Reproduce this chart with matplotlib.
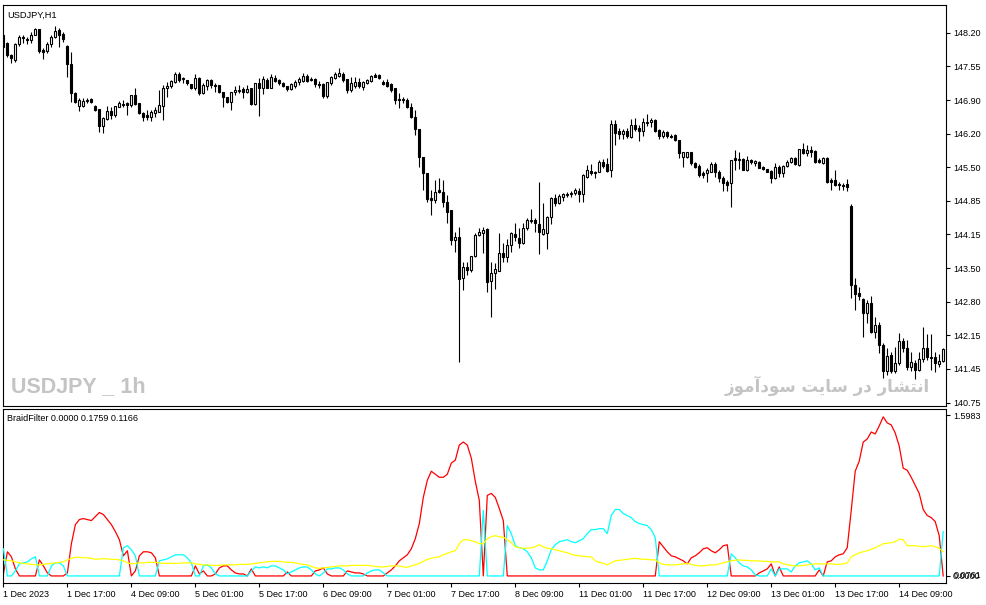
import matplotlib
matplotlib.use("Agg")
import matplotlib.pyplot as plt
import matplotlib.transforms as mtransforms
import numpy as np

# USDJPY H1 bars, 1 Dec 2023 - 14 Dec 2023
open_ = [
    148.16, 147.99, 147.75, 147.65, 147.97, 148.11, 148.07, 148.05, 148.16, 148.28,
    147.85, 147.83, 147.97, 148.11, 148.26, 148.18, 147.93, 147.57, 146.99, 146.73,
    146.73, 146.83, 146.87, 146.73, 146.66, 146.32, 146.46, 146.62, 146.54, 146.71,
    146.77, 146.79, 146.75, 146.95, 146.79, 146.58, 146.54, 146.50, 146.58, 146.60,
    146.73, 147.09, 147.13, 147.21, 147.37, 147.29, 147.25, 147.17, 147.09, 147.29,
    146.99, 147.13, 147.25, 147.15, 147.15, 147.01, 146.91, 146.81, 147.01, 147.03,
    147.07, 147.01, 147.09, 146.77, 147.19, 147.09, 147.25, 147.09, 147.29, 147.25,
    147.19, 147.13, 147.07, 147.13, 147.21, 147.23, 147.33, 147.27, 147.27, 147.17,
    147.17, 146.93, 147.19, 147.29, 147.33, 147.37, 147.27, 147.05, 147.13, 147.21,
    147.11, 147.19, 147.23, 147.35, 147.35, 147.21, 147.21, 147.17, 147.09, 146.87,
    146.85, 146.85, 146.71, 146.50, 146.26, 145.70, 145.38, 144.87, 144.83, 145.03,
    144.99, 144.79, 144.63, 144.03, 144.09, 143.26, 143.48, 143.42, 143.70, 144.13,
    144.17, 144.25, 143.20, 143.36, 143.40, 143.76, 143.68, 143.93, 144.15, 144.07,
    143.97, 144.27, 144.41, 144.43, 144.35, 144.15, 144.17, 144.49, 144.87, 144.77,
    144.89, 144.93, 144.95, 144.97, 145.01, 144.95, 145.30, 145.42, 145.40, 145.40,
    145.60, 145.56, 145.44, 146.36, 146.22, 146.16, 146.22, 146.10, 146.34, 146.28,
    146.22, 146.38, 146.40, 146.44, 146.24, 146.12, 146.20, 146.12, 146.14, 146.04,
    145.70, 145.70, 145.80, 145.58, 145.52, 145.38, 145.38, 145.40, 145.56, 145.40,
    145.28, 145.19, 145.17, 145.68, 145.66, 145.66, 145.44, 145.64, 145.58, 145.60,
    145.50, 145.46, 145.42, 145.28, 145.50, 145.38, 145.52, 145.60, 145.68, 145.54,
    145.86, 145.78, 145.84, 145.82, 145.64, 145.58, 145.68, 145.23, 145.23, 145.15,
    145.13, 145.15, 144.71, 143.12, 142.96, 142.84, 142.56, 142.76, 142.17, 142.31,
    141.91, 141.39, 141.71, 141.39, 141.55, 141.99, 141.85, 141.47, 141.55, 141.41,
    141.63, 141.85, 141.67, 141.67, 141.53, 141.59,
]
high = [
    148.20, 148.01, 147.77, 147.99, 148.16, 148.16, 148.11, 148.22, 148.30, 148.28,
    147.89, 148.01, 148.16, 148.34, 148.30, 148.22, 147.95, 147.81, 147.01, 146.89,
    146.89, 146.89, 146.89, 146.75, 146.66, 146.50, 146.73, 146.71, 146.73, 146.83,
    146.85, 146.81, 146.95, 147.09, 146.79, 146.60, 146.64, 146.64, 146.71, 147.05,
    147.15, 147.21, 147.25, 147.41, 147.41, 147.31, 147.25, 147.17, 147.37, 147.31,
    147.19, 147.27, 147.27, 147.19, 147.15, 147.01, 146.91, 147.01, 147.13, 147.15,
    147.11, 147.15, 147.09, 147.19, 147.29, 147.33, 147.29, 147.37, 147.35, 147.27,
    147.21, 147.13, 147.19, 147.25, 147.31, 147.39, 147.37, 147.31, 147.29, 147.23,
    147.19, 147.21, 147.33, 147.41, 147.49, 147.41, 147.27, 147.31, 147.31, 147.29,
    147.23, 147.27, 147.35, 147.39, 147.37, 147.25, 147.27, 147.19, 147.09, 146.99,
    146.91, 146.89, 146.79, 146.64, 146.26, 145.70, 145.38, 145.03, 145.23, 145.28,
    145.23, 144.93, 144.63, 144.19, 144.29, 143.58, 143.58, 143.70, 144.17, 144.27,
    144.29, 144.27, 143.58, 143.56, 144.17, 143.97, 144.05, 144.19, 144.37, 144.27,
    144.37, 144.47, 144.65, 144.47, 145.19, 144.77, 144.51, 144.89, 144.95, 144.95,
    144.97, 144.99, 145.01, 145.07, 145.07, 145.36, 145.54, 145.56, 145.42, 145.64,
    145.66, 145.68, 146.44, 146.44, 146.28, 146.26, 146.28, 146.46, 146.48, 146.34,
    146.48, 146.56, 146.48, 146.46, 146.26, 146.24, 146.22, 146.16, 146.16, 146.04,
    145.80, 145.80, 145.80, 145.60, 145.56, 145.42, 145.48, 145.60, 145.60, 145.44,
    145.32, 145.23, 145.64, 145.84, 145.80, 145.68, 145.72, 145.66, 145.64, 145.62,
    145.52, 145.46, 145.44, 145.58, 145.54, 145.54, 145.64, 145.70, 145.70, 145.86,
    145.98, 145.94, 145.92, 145.84, 145.68, 145.70, 145.70, 145.28, 145.44, 145.19,
    145.17, 145.25, 144.75, 143.26, 143.08, 142.86, 142.82, 142.90, 142.48, 142.37,
    141.95, 141.85, 141.77, 141.87, 142.15, 142.05, 142.01, 141.77, 141.61, 141.77,
    142.27, 142.13, 142.13, 141.77, 141.73, 141.85,
]
low = [
    147.89, 147.71, 147.59, 147.61, 147.93, 147.99, 147.97, 147.99, 148.16, 147.79,
    147.67, 147.79, 147.91, 148.09, 147.91, 148.01, 147.31, 146.81, 146.79, 146.62,
    146.71, 146.79, 146.79, 146.62, 146.20, 146.18, 146.44, 146.46, 146.50, 146.71,
    146.71, 146.54, 146.71, 146.75, 146.56, 146.42, 146.44, 146.42, 146.50, 146.60,
    146.44, 146.91, 147.09, 147.19, 147.21, 147.19, 147.15, 147.07, 147.05, 146.95,
    146.97, 147.05, 147.09, 147.01, 146.99, 146.71, 146.79, 146.64, 146.95, 146.99,
    146.89, 146.99, 146.75, 146.75, 146.52, 146.97, 147.09, 147.09, 147.21, 147.15,
    147.11, 147.03, 147.05, 147.09, 147.15, 147.21, 147.21, 147.23, 147.11, 147.09,
    146.89, 146.89, 147.15, 147.27, 147.31, 147.21, 146.99, 147.01, 147.09, 147.09,
    147.05, 147.17, 147.21, 147.31, 147.27, 147.15, 147.11, 147.01, 146.77, 146.68,
    146.79, 146.68, 146.48, 146.14, 145.50, 145.03, 144.79, 144.53, 144.77, 144.97,
    144.69, 144.37, 143.93, 143.78, 141.57, 143.02, 143.32, 143.38, 143.68, 144.11,
    143.76, 142.98, 142.48, 143.04, 143.40, 143.58, 143.58, 143.78, 144.01, 143.87,
    143.95, 144.23, 144.37, 144.19, 143.74, 144.13, 143.85, 144.35, 144.71, 144.75,
    144.81, 144.89, 144.89, 144.93, 144.79, 144.79, 145.28, 145.34, 145.28, 145.40,
    145.48, 145.40, 145.30, 145.94, 146.06, 146.06, 146.08, 146.08, 146.22, 146.02,
    146.12, 146.32, 146.30, 146.20, 146.06, 146.08, 146.08, 146.08, 146.02, 145.68,
    145.50, 145.68, 145.54, 145.48, 145.30, 145.28, 145.19, 145.40, 145.30, 145.19,
    145.01, 145.01, 144.69, 145.44, 145.46, 145.44, 145.42, 145.56, 145.52, 145.48,
    145.44, 145.40, 145.17, 145.25, 145.30, 145.30, 145.50, 145.58, 145.54, 145.52,
    145.76, 145.72, 145.70, 145.58, 145.58, 145.56, 145.17, 145.03, 145.11, 145.03,
    145.03, 145.01, 142.86, 142.62, 142.82, 142.07, 142.35, 142.15, 142.05, 141.75,
    141.25, 141.31, 141.35, 141.35, 141.51, 141.77, 141.41, 141.39, 141.23, 141.39,
    141.57, 141.61, 141.41, 141.37, 141.47, 141.57,
]
close = [
    147.91, 147.75, 147.69, 147.97, 148.11, 148.09, 148.05, 148.16, 148.28, 147.83,
    147.81, 147.97, 148.11, 148.24, 148.16, 148.07, 147.57, 146.99, 146.81, 146.85,
    146.83, 146.85, 146.81, 146.64, 146.32, 146.48, 146.62, 146.54, 146.73, 146.79,
    146.75, 146.75, 146.95, 146.77, 146.58, 146.50, 146.50, 146.60, 146.64, 146.75,
    147.09, 147.13, 147.23, 147.37, 147.25, 147.27, 147.19, 147.09, 147.29, 146.99,
    147.15, 147.25, 147.15, 147.13, 147.01, 146.91, 146.81, 147.01, 147.05, 147.05,
    147.01, 147.07, 146.77, 147.19, 147.09, 147.27, 147.09, 147.31, 147.23, 147.19,
    147.13, 147.07, 147.17, 147.21, 147.27, 147.33, 147.23, 147.25, 147.17, 147.15,
    146.93, 147.21, 147.31, 147.37, 147.39, 147.25, 147.05, 147.19, 147.21, 147.13,
    147.21, 147.25, 147.33, 147.31, 147.29, 147.17, 147.13, 147.05, 146.85, 146.85,
    146.87, 146.71, 146.50, 146.26, 145.70, 145.38, 144.85, 144.83, 144.99, 144.99,
    144.79, 144.59, 144.03, 144.09, 143.24, 143.48, 143.42, 143.70, 144.13, 144.19,
    144.23, 143.18, 143.36, 143.44, 143.76, 143.68, 143.93, 144.17, 144.09, 143.97,
    144.27, 144.43, 144.43, 144.37, 144.19, 144.25, 144.49, 144.87, 144.77, 144.91,
    144.95, 144.95, 144.97, 145.03, 144.95, 145.34, 145.44, 145.38, 145.38, 145.60,
    145.52, 145.42, 146.36, 146.18, 146.16, 146.22, 146.12, 146.34, 146.26, 146.22,
    146.40, 146.40, 146.44, 146.22, 146.12, 146.20, 146.12, 146.10, 146.04, 145.78,
    145.80, 145.80, 145.58, 145.50, 145.34, 145.34, 145.44, 145.56, 145.40, 145.28,
    145.17, 145.13, 145.64, 145.64, 145.64, 145.44, 145.64, 145.60, 145.62, 145.48,
    145.46, 145.40, 145.28, 145.50, 145.38, 145.52, 145.60, 145.68, 145.56, 145.86,
    145.78, 145.84, 145.80, 145.60, 145.60, 145.68, 145.19, 145.19, 145.13, 145.13,
    145.11, 145.09, 143.12, 142.94, 142.90, 142.56, 142.76, 142.17, 142.31, 141.91,
    141.39, 141.69, 141.39, 141.55, 141.99, 141.85, 141.47, 141.57, 141.41, 141.63,
    141.85, 141.67, 141.65, 141.55, 141.59, 141.83,
]

# BraidFilter buffers
braid_red = [
    0.02, 0.24, 0.19, 0.07, 0, 0, 0, 0, 0, 0.16,
    0.10, 0.03, 0, 0, 0, 0, 0.03, 0.32, 0.51, 0.56,
    0.57, 0.56, 0.55, 0.59, 0.63, 0.61, 0.56, 0.51, 0.44, 0.36,
    0.20, 0.25, 0, 0.05, 0.20, 0.24, 0.24, 0.23, 0.18, 0,
    0, 0, 0, 0, 0, 0, 0, 0, 0.10, 0.02,
    0.05, 0, 0, 0.02, 0.08, 0.10, 0.10, 0.06, 0.03, 0.02,
    0.02, 0, 0.07, 0, 0, 0, 0, 0, 0, 0,
    0, 0.04, 0, 0, 0, 0, 0, 0, 0.05, 0.06,
    0.08, 0.02, 0, 0, 0, 0, 0.05, 0.04, 0.03, 0.03,
    0.02, 0, 0, 0, 0, 0, 0.03, 0.06, 0.10, 0.15,
    0.18, 0.21, 0.27, 0.37, 0.52, 0.78, 0.95, 1.04, 1.01, 0.98,
    0.98, 1.01, 1.12, 1.15, 1.30, 1.33, 1.30, 1.17, 0.94, 0.75,
    0, 0.80, 0.82, 0.78, 0.67, 0.55, 0, 0, 0, 0,
    0, 0, 0, 0, 0, 0, 0, 0, 0, 0,
    0, 0, 0, 0, 0, 0, 0, 0, 0, 0,
    0, 0, 0, 0, 0, 0, 0, 0, 0, 0,
    0, 0, 0, 0, 0.34, 0.29, 0.24, 0.20, 0.19, 0.17,
    0.15, 0.12, 0.18, 0.20, 0.23, 0.27, 0.28, 0.25, 0.23, 0.26,
    0.30, 0.31, 0, 0, 0, 0, 0, 0, 0, 0.03,
    0.05, 0.07, 0.12, 0, 0.09, 0, 0, 0, 0, 0,
    0, 0, 0, 0, 0.06, 0, 0.14, 0.15, 0.19, 0.21,
    0.22, 0.28, 0.65, 1.04, 1.14, 1.33, 1.36, 1.43, 1.41, 1.49,
    1.58, 1.52, 1.50, 1.42, 1.29, 1.07, 1.05, 0.98, 0.90, 0.82,
    0.66, 0.60, 0.58, 0.54, 0.40, 0,
]
braid_cyan = [
    0.27, 0, 0, 0.05, 0.12, 0.13, 0.14, 0.17, 0.19, 0,
    0, 0, 0.10, 0.13, 0.13, 0.10, 0, 0, 0, 0,
    0, 0, 0, 0, 0, 0, 0, 0, 0, 0,
    0.28, 0.30, 0.26, 0.20, 0, 0, 0, 0, 0, 0.15,
    0.16, 0.17, 0.19, 0.21, 0.21, 0.21, 0.18, 0.13, 0, 0,
    0.10, 0.11, 0.08, 0.02, 0, 0, 0, 0, 0, 0,
    0, 0, 0.05, 0.09, 0.08, 0.09, 0.08, 0.10, 0.10, 0.08,
    0.06, 0.02, 0.04, 0.06, 0.08, 0.09, 0.09, 0.06, 0.02, 0,
    0.03, 0.07, 0.07, 0.08, 0.08, 0.06, 0.02, 0, 0, 0,
    0, 0.03, 0.05, 0.06, 0.06, 0.03, 0, 0, 0, 0,
    0, 0, 0, 0, 0, 0, 0, 0, 0, 0,
    0, 0, 0, 0, 0, 0, 0, 0, 0, 0,
    0.65, 0, 0, 0, 0, 0, 0.50, 0.42, 0.30, 0.28,
    0.27, 0.24, 0.18, 0.08, 0.06, 0.06, 0.15, 0.26, 0.31, 0.34,
    0.35, 0.36, 0.34, 0.33, 0.35, 0.37, 0.42, 0.46, 0.46, 0.47,
    0.47, 0.42, 0.60, 0.66, 0.66, 0.62, 0.60, 0.58, 0.54, 0.52,
    0.51, 0.50, 0.46, 0.38, 0, 0, 0, 0, 0, 0,
    0, 0, 0, 0, 0, 0, 0, 0, 0, 0,
    0, 0, 0.22, 0.18, 0.13, 0.10, 0.09, 0.06, 0.01, 0,
    0, 0, 0.07, 0, 0.07, 0.07, 0.07, 0.04, 0.10, 0.13,
    0.14, 0.15, 0.12, 0.06, 0.08, 0, 0, 0, 0, 0,
    0, 0, 0, 0, 0, 0, 0, 0, 0, 0,
    0, 0, 0, 0, 0, 0, 0, 0, 0, 0,
    0, 0, 0, 0, 0, 0.44,
]
braid_yellow = [
    0.16, 0.155, 0.15, 0.14, 0.13, 0.125, 0.12, 0.115, 0.11, 0.11,
    0.115, 0.12, 0.125, 0.13, 0.135, 0.14, 0.16, 0.175, 0.185, 0.185,
    0.18, 0.18, 0.175, 0.165, 0.17, 0.17, 0.17, 0.165, 0.165, 0.16,
    0.15, 0.13, 0.12, 0.125, 0.13, 0.13, 0.135, 0.135, 0.135, 0.13,
    0.125, 0.125, 0.125, 0.125, 0.125, 0.13, 0.13, 0.13, 0.12, 0.115,
    0.11, 0.11, 0.105, 0.105, 0.105, 0.11, 0.11, 0.11, 0.11, 0.115,
    0.115, 0.115, 0.12, 0.125, 0.13, 0.135, 0.14, 0.145, 0.145, 0.145,
    0.14, 0.135, 0.135, 0.13, 0.12, 0.115, 0.11, 0.095, 0.08, 0.076,
    0.08, 0.085, 0.09, 0.095, 0.10, 0.10, 0.10, 0.105, 0.105, 0.105,
    0.105, 0.105, 0.10, 0.095, 0.09, 0.09, 0.095, 0.10, 0.10, 0.10,
    0.09, 0.086, 0.10, 0.11, 0.125, 0.145, 0.165, 0.175, 0.185, 0.19,
    0.21, 0.225, 0.24, 0.25, 0.32, 0.36, 0.36, 0.35, 0.34, 0.32,
    0.32, 0.37, 0.39, 0.40, 0.39, 0.385, 0.36, 0.33, 0.29, 0.28,
    0.275, 0.275, 0.28, 0.29, 0.31, 0.29, 0.275, 0.27, 0.26, 0.25,
    0.24, 0.23, 0.215, 0.205, 0.20, 0.195, 0.19, 0.19, 0.15, 0.135,
    0.125, 0.11, 0.13, 0.15, 0.155, 0.16, 0.165, 0.17, 0.175, 0.17,
    0.165, 0.165, 0.16, 0.16, 0.13, 0.115, 0.11, 0.11, 0.11, 0.115,
    0.12, 0.125, 0.115, 0.105, 0.10, 0.10, 0.105, 0.11, 0.11, 0.12,
    0.13, 0.14, 0.15, 0.155, 0.16, 0.155, 0.155, 0.15, 0.15, 0.15,
    0.145, 0.145, 0.14, 0.14, 0.14, 0.12, 0.11, 0.105, 0.10, 0.10,
    0.105, 0.11, 0.115, 0.12, 0.12, 0.12, 0.12, 0.12, 0.115, 0.115,
    0.12, 0.13, 0.19, 0.21, 0.23, 0.24, 0.25, 0.265, 0.28, 0.30,
    0.32, 0.325, 0.33, 0.34, 0.365, 0.36, 0.30, 0.30, 0.30, 0.295,
    0.29, 0.295, 0.30, 0.29, 0.275, 0.24,
]

date_labels = ["1 Dec 2023", "1 Dec 17:00", "4 Dec 09:00", "5 Dec 01:00",
               "5 Dec 17:00", "6 Dec 09:00", "7 Dec 01:00", "7 Dec 17:00",
               "8 Dec 09:00", "11 Dec 01:00", "11 Dec 17:00", "12 Dec 09:00",
               "13 Dec 01:00", "13 Dec 17:00", "14 Dec 09:00"]
price_labels = ["148.20", "147.55", "146.90", "146.20", "145.50", "144.85",
                "144.15", "143.50", "142.80", "142.15", "141.45", "140.75"]

# "انتشار در سایت سودآموز" in Arabic presentation forms (logical order)
persian = ("\uFE8D\uFEE7\uFE98\uFEB8\uFE8E\uFEAD \uFEA9\uFEAD "
           "\uFEB3\uFE8E\uFEF3\uFE96 \uFEB3\uFEEE\uFEA9\uFE81\uFEE3\uFEEE\uFEAF")

plt.rcParams['font.family'] = ['Liberation Sans', 'DejaVu Sans']

W, H = 987, 605
fig = plt.figure(figsize=(W / 100, H / 100), dpi=100)
fig.patch.set_facecolor("white")

def frac(x0, y0, x1, y1):
    return [x0 / W, 1 - y1 / H, (x1 - x0) / W, (y1 - y0) / H]

ax = fig.add_axes(frac(3, 5, 946, 406))
ax2 = fig.add_axes(frac(3, 408.5, 946, 583))

n = len(close)
x = np.arange(n)
o = np.array(open_)
c = np.array(close)
hi = np.array(high)
lo = np.array(low)
up = c >= o

ax.vlines(x, lo, hi, color="black", linewidth=0.8, zorder=2)
ax.bar(x, np.abs(c - o), bottom=np.minimum(o, c), width=0.5,
       color=np.where(up, "white", "black"), edgecolor="black",
       linewidth=0.8, zorder=3)

ax.set_xlim(-0.1, 235.7)
ax.set_ylim(140.68, 148.76)
ax.yaxis.tick_right()
ax.set_yticks(np.linspace(148.20, 140.75, 12))
ax.set_yticklabels(price_labels)
ax.tick_params(axis="y", direction="out", length=3, width=0.8, pad=2,
               labelsize=6.5, colors="black")
ax.set_xticks([])
for s in ax.spines.values():
    s.set_linewidth(0.8)

ax.text(0.004, 0.985, "USDJPY,H1", transform=ax.transAxes, fontsize=6.7,
        ha="left", va="top")
ax.text(0.008, 0.022, "USDJPY _ 1h", transform=ax.transAxes, fontsize=15.5,
        fontweight="bold", color="#c4c4c4", ha="left", va="bottom", zorder=1)
ax.text(0.983, 0.024, persian[::-1], transform=ax.transAxes, fontsize=12,
        fontweight="bold", color="#c4c4c4", ha="right", va="bottom",
        family=["DejaVu Sans"], zorder=1)

ax2.plot(x, braid_red, color="#ff0000", linewidth=0.9, zorder=2)
ax2.plot(x, braid_cyan, color="#00ffff", linewidth=0.9, zorder=3)
ax2.plot(x, braid_yellow, color="#ffff00", linewidth=0.9, zorder=4)
ax2.set_xlim(-0.1, 235.7)
ax2.set_ylim(-0.07, 1.663)
ax2.yaxis.tick_right()
ax2.set_yticks([0.0, 1.5983])
ax2.set_yticklabels(["0.0000", "1.5983"])
ax2.tick_params(axis="y", direction="out", length=3, width=0.8, pad=2,
                labelsize=6.5)
trans = mtransforms.blended_transform_factory(ax2.transAxes, ax2.transData)
ax2.text(1.0085, 0.0, "0.0761", transform=trans, fontsize=6.5,
         ha="left", va="center")
ax2.set_xticks(np.arange(0, n, 16))
ax2.set_xticklabels(date_labels)
ax2.tick_params(axis="x", direction="out", length=3, width=0.8, pad=2,
                labelsize=6.5)
for lab in ax2.get_xticklabels():
    lab.set_horizontalalignment("left")
for s in ax2.spines.values():
    s.set_linewidth(0.8)
ax2.text(0.004, 0.97, "BraidFilter 0.0000 0.1759 0.1166", transform=ax2.transAxes,
         fontsize=6.5, ha="left", va="top")

fig.savefig("out.png", dpi=100)
